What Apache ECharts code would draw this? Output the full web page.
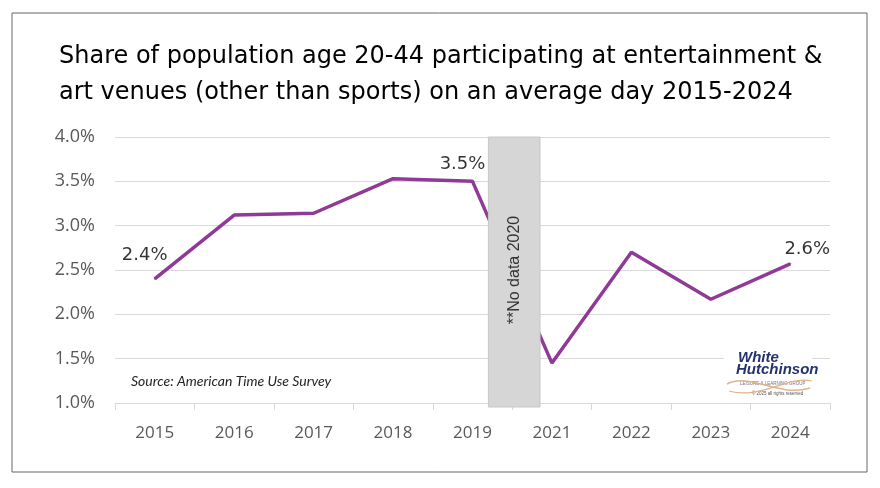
<!DOCTYPE html>
<html><head><meta charset="utf-8">
<script src="https://cdn.jsdelivr.net/npm/echarts@6/dist/echarts.min.js"></script>
<style>html,body{margin:0;padding:0;background:#fff}#c{width:880px;height:488px}</style>
</head><body><div id="c"></div>
<script>
const categories = ['2015','2016','2017','2018','2019','2021','2022','2023','2024'];
const shareValues = [2.40, 3.12, 3.14, 3.53, 3.50, 1.45, 2.70, 2.17, 2.57];
const labeledIndexes = [0, 4, 8];
const yTicks = { min: 1.0, max: 4.0, interval: 0.5 };
const noDataGap = { afterIndex: 4, text: '**No data 2020' };
const titleLines = ['Share of population age 20-44 participating at entertainment &', 'art venues (other than sports) on an average day 2015-2024'];

const labelOffsets = { 0: [-10, -9], 4: [-10, -2], 8: [17, 1] };
const handFont = '"Comic Sans MS", "DejaVu Sans", sans-serif';
const lineColor = '#8e3a96';

const chart = echarts.init(document.getElementById('c'));
chart.setOption({
  backgroundColor: '#fff',
  animation: false,
  title: {
    text: titleLines.join('\n'),
    left: 54, top: 34,
    textStyle: { fontFamily: handFont, fontSize: 24, fontWeight: 'normal', color: '#000', lineHeight: 36 }
  },
  grid: { left: 115, right: 50, top: 137, bottom: 85 },
  xAxis: {
    type: 'category', data: categories, boundaryGap: true,
    axisLine: { lineStyle: { color: '#d9d9d9', width: 1 } },
    axisTick: { show: true, length: 7, lineStyle: { color: '#d9d9d9' } },
    axisLabel: { color: '#595959', fontSize: 17, margin: 22, fontFamily: '"Open Sans", sans-serif' }
  },
  yAxis: {
    type: 'value', min: yTicks.min, max: yTicks.max, interval: yTicks.interval,
    axisLine: { show: false }, axisTick: { show: false },
    splitLine: { lineStyle: { color: '#d9d9d9', width: 1 } },
    axisLabel: { color: '#595959', fontSize: 18, margin: 20, fontFamily: '"Open Sans", sans-serif',
      formatter: v => v.toFixed(1) + '%' }
  },
  series: [
    {
      type: 'line', z: 2,
      data: shareValues,
      showSymbol: false, symbol: 'none',
      lineStyle: { color: lineColor, width: 3.5 }
    },
    {
      type: 'scatter', z: 3, silent: true,
      data: shareValues.map((v, i) => labeledIndexes.includes(i) ? [i, v] : null).filter(d => d),
      symbolSize: 2,
      itemStyle: { color: lineColor },
      label: { show: true, position: 'top',
        formatter: p => p.value[1].toFixed(1) + '%',
        fontFamily: handFont, fontSize: 18, color: '#000' },
      labelLayout: p => {
        const idx = labeledIndexes[p.dataIndex];
        const o = labelOffsets[idx];
        return { dx: o[0], dy: o[1] };
      }
    },
    {
      type: 'custom', z: 5, silent: true,
      data: [[noDataGap.afterIndex, yTicks.max, yTicks.min]],
      renderItem: (params, api) => {
        const band = api.size([1, 0])[0];
        const top = api.coord([api.value(0), api.value(1)]);
        const bot = api.coord([api.value(0), api.value(2)]);
        const cx = top[0] + band / 2 + 2;
        const w = band * 0.65;
        return {
          type: 'group',
          children: [
            { type: 'rect', shape: { x: cx - w / 2, y: top[1], width: w, height: bot[1] - top[1] + 4 },
              style: { fill: '#d6d6d6', stroke: '#c8c8c8', lineWidth: 1 } },
            { type: 'text', x: cx, y: (top[1] + bot[1]) / 2, rotation: Math.PI / 2,
              style: { text: noDataGap.text, fill: '#333', fontSize: 16,
                fontFamily: '"Liberation Sans", Arial, sans-serif', align: 'center', verticalAlign: 'middle' } }
          ]
        };
      }
    }
  ],
  graphic: [
    { type: 'rect', shape: { x: 12, y: 13, width: 855, height: 459 }, style: { fill: 'none', stroke: '#666', lineWidth: 1 }, z: 0 },
    { type: 'text', left: 131, top: 374, style: { text: 'Source: American Time Use Survey', fill: '#222', fontSize: 14,
      fontStyle: 'italic', fontFamily: '"Lato", sans-serif' } },
    { type: 'rect', shape: { x: 724, y: 350, width: 88, height: 50 }, style: { fill: '#fff' }, z: 10 },
    { type: 'text', left: 738, top: 350, z: 11, style: { text: 'White', fill: '#25326e', fontSize: 15, fontWeight: 'bold',
      fontStyle: 'italic', fontFamily: '"Liberation Sans", sans-serif' } },
    { type: 'text', left: 736, top: 362, z: 11, style: { text: 'Hutchinson', fill: '#25326e', fontSize: 15, fontWeight: 'bold',
      fontStyle: 'italic', fontFamily: '"Liberation Sans", sans-serif' } },
    { type: 'text', left: 740, top: 381, z: 11, style: { text: 'LEISURE & LEARNING GROUP', fill: '#7a6a8a', fontSize: 4.5,
      fontFamily: 'sans-serif' } },
    { type: 'text', left: 752, top: 391, z: 11, style: { text: '© 2025 all rights reserved', fill: '#555', fontSize: 4.5,
      fontFamily: 'sans-serif' } },
    { type: 'bezierCurve', z: 11, shape: { x1: 727, y1: 384, x2: 810, y2: 388, cpx1: 750, cpy1: 372, cpx2: 780, cpy2: 398 },
      style: { stroke: '#e0b48a', lineWidth: 1.5, fill: 'none' } },
    { type: 'bezierCurve', z: 11, shape: { x1: 729, y1: 391, x2: 812, y2: 381, cpx1: 760, cpy1: 400, cpx2: 790, cpy2: 375 },
      style: { stroke: '#e0b48a', lineWidth: 1.2, fill: 'none' } }
  ]
});
</script></body></html>
